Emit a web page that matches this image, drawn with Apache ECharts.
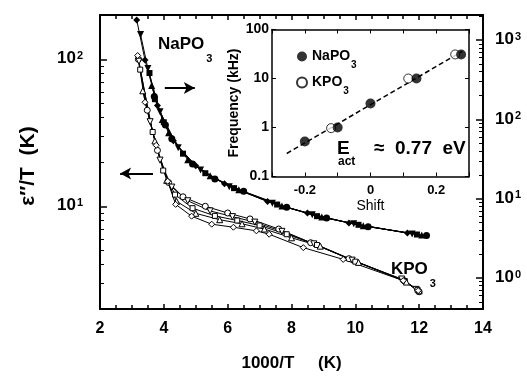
<!DOCTYPE html>
<html><head><meta charset="utf-8">
<script src="https://cdn.jsdelivr.net/npm/echarts@6/dist/echarts.min.js"></script>
<style>html,body{margin:0;padding:0;background:#fff}#c{width:527px;height:377px}</style>
</head><body><div id="c"></div>
<script>
// ---- NaPO3 (right axis), five overlapping curves, filled markers ----
const naX0 = [3.15, 3.41, 3.80, 4.30, 5.00, 5.90, 7.25, 8.50, 9.80, 11.63];
const naY0 = [1800, 560, 150, 54, 26, 15.4, 9.2, 6.6, 4.96, 3.69];
const naX1 = [3.27, 3.50, 3.88, 4.45, 5.15, 6.05, 7.40, 8.65, 9.95, 11.78];
const naY1 = [1180, 440, 125, 44, 23, 14.2, 8.8, 6.3, 4.82, 3.60];
const naX2 = [3.55, 3.72, 4.00, 4.60, 5.30, 6.20, 7.55, 8.80, 10.10, 11.93];
const naY2 = [385, 180, 92, 37, 21, 13.6, 8.45, 6.03, 4.69, 3.54];
const naX3 = [3.62, 3.95, 4.15, 4.75, 5.45, 6.35, 7.70, 8.95, 10.25, 12.08];
const naY3 = [267, 100, 68, 31, 19.5, 13.0, 8.1, 5.87, 4.55, 3.49];
const naX4 = [3.70, 4.05, 4.25, 4.90, 5.60, 6.50, 7.85, 9.10, 10.40, 12.23];
const naY4 = [195, 85, 57, 27.5, 17.8, 12.4, 7.8, 5.7, 4.43, 3.44];

// ---- KPO3 (left axis), five curves, open markers ----
const kX0 = [3.20, 3.48, 3.80, 4.15, 4.60, 5.30, 6.00, 6.70, 7.60, 8.60, 9.80, 11.50, 12.00];
const kY0 = [100, 45, 24, 14.5, 11.6, 10.0, 9.0, 8.2, 7.0, 5.65, 4.4, 3.15, 2.62];
const kX1 = [3.22, 3.57, 3.88, 4.25, 4.75, 5.45, 6.15, 6.85, 7.70, 8.70, 9.90, 11.45, 11.90];
const kY1 = [97, 37.6, 20.6, 13.5, 10.9, 9.3, 8.5, 7.8, 6.75, 5.55, 4.3, 3.2, 2.72];
const kX2 = [3.26, 3.65, 3.98, 4.35, 4.90, 5.60, 6.30, 7.00, 7.85, 8.80, 10.00, 11.55, 11.95];
const kY2 = [85, 32, 17.5, 12.0, 9.7, 8.6, 8.0, 7.4, 6.45, 5.45, 4.2, 3.1, 2.7];
const kX3 = [3.34, 3.72, 4.09, 4.40, 5.00, 5.75, 6.45, 7.15, 8.00, 8.90, 10.10, 11.60, 12.00];
const kY3 = [61, 27.8, 15.0, 10.8, 8.95, 8.1, 7.6, 7.0, 6.1, 5.35, 4.15, 3.05, 2.66];
const kX4 = [3.18, 3.41, 3.76, 4.12, 4.37, 4.87, 5.50, 6.18, 6.90, 7.30, 8.37, 9.62, 11.50, 11.97];
const kY4 = [106, 51, 26, 14.8, 10.3, 8.56, 7.55, 7.2, 6.8, 6.45, 5.23, 4.35, 3.12, 2.67];

// ---- Inset: frequency vs shift ----
const insShiftNa = [-0.2, -0.1, 0, 0.14, 0.276];
const insFreqNa = [0.52, 1.0, 3.1, 10, 31];
const insShiftK = [-0.12, 0.115, 0.258];
const insFreqK = [0.97, 10, 31];
const fitShift = [-0.255, 0.28];
const fitFreq = [0.295, 36];

// ---- axis ranges / tick values ----
const xMin = 2, xMax = 14, xStep = 2;
const leftMin = 2, leftMax = 200;
const rightMin = 0.407, rightMax = 2075;
const leftMajor = [10, 100];
const leftMinor = [3, 4, 5, 6, 7, 8, 9, 20, 30, 40, 50, 60, 70, 80, 90];
const rightMajor = [1, 10, 100, 1000];
const rightMinor = [0.5, 0.6, 0.7, 0.8, 0.9, 2, 3, 4, 5, 6, 7, 8, 9, 20, 30, 40, 50, 60, 70, 80, 90,
  200, 300, 400, 500, 600, 700, 800, 900, 2000];
const insXMin = -0.3, insXMax = 0.3, insXStep = 0.1;
const insYMin = 0.1, insYMax = 100;
const insXLabels = ['-0.2', '0', '0.2'];

// arrows (data coords)
const arrowRight = [[4.03, 63.7], [4.97, 63.7]];
const arrowLeft = [[3.66, 16.7], [2.63, 16.7]];

const FONT = 'Liberation Sans, Arial, Helvetica, sans-serif';
const zip = (xs, ys) => xs.map((x, i) => [x, ys[i]]);

function powLabel(v) {
  const e = Math.log10(v);
  const r = Math.round(e);
  if (Math.abs(e - r) > 1e-6) return '';
  return '{m|10}{s|' + r + '}';
}
const powRich = {
  m: { fontFamily: FONT, fontWeight: 'bold', fontSize: 17, color: '#000', verticalAlign: 'top', lineHeight: 18 },
  s: { fontFamily: FONT, fontWeight: 'bold', fontSize: 11, color: '#000', verticalAlign: 'top', lineHeight: 10, padding: [0, 0, 0, 1] }
};
const subRich = {
  a: { fontFamily: FONT, fontWeight: 'bold', fontSize: 14, color: '#000', verticalAlign: 'top', lineHeight: 15 },
  b: { fontFamily: FONT, fontWeight: 'bold', fontSize: 10, color: '#000', verticalAlign: 'top', lineHeight: 10, padding: [11, 0, 0, 1] }
};

const naMarkers = [['diamond', 0], ['triangle', 180], ['rect', 0], ['triangle', 0], ['circle', 0]];
const kMarkers = [['circle', 0], ['triangle', 180], ['rect', 0], ['triangle', 0], ['diamond', 0]];
const naSets = [zip(naX0, naY0), zip(naX1, naY1), zip(naX2, naY2), zip(naX3, naY3), zip(naX4, naY4)];
const kSets = [zip(kX0, kY0), zip(kX1, kY1), zip(kX2, kY2), zip(kX3, kY3), zip(kX4, kY4)];

const series = [];
kSets.forEach((d, i) => {
  const s = {
    name: 'KPO3-' + i, type: 'line', xAxisIndex: 0, yAxisIndex: 0, data: d,
    symbol: kMarkers[i][0], symbolRotate: kMarkers[i][1], symbolSize: kMarkers[i][0] === 'rect' ? 5 : 6,
    lineStyle: { color: '#000', width: 1 },
    itemStyle: { color: '#fff', borderColor: '#000', borderWidth: 1 },
    silent: true, animation: false, z: 3
  };
  if (i === 0) {
    s.markLine = {
      silent: true, symbol: ['none', 'arrow'], symbolSize: [9, 11], label: { show: false },
      lineStyle: { color: '#000', width: 2, type: 'solid' }, animation: false,
      data: [
        [{ coord: arrowRight[0] }, { coord: arrowRight[1] }],
        [{ coord: arrowLeft[0] }, { coord: arrowLeft[1] }]
      ]
    };
  }
  series.push(s);
});
naSets.forEach((d, i) => {
  series.push({
    name: 'NaPO3-' + i, type: 'line', xAxisIndex: 0, yAxisIndex: 1, data: d,
    symbol: naMarkers[i][0], symbolRotate: naMarkers[i][1], symbolSize: naMarkers[i][0] === 'rect' ? 6 : 7,
    lineStyle: { color: '#000', width: 1 },
    itemStyle: { color: '#000', borderColor: '#000', borderWidth: 0 },
    silent: true, animation: false, z: 3
  });
});
// inset
series.push({
  name: 'fit', type: 'line', xAxisIndex: 2, yAxisIndex: 4, data: zip(fitShift, fitFreq),
  symbol: 'none', lineStyle: { color: '#000', width: 1.5, type: [5, 3] }, silent: true, animation: false, z: 4
});
series.push({
  name: 'KPO3', type: 'scatter', xAxisIndex: 2, yAxisIndex: 4, data: zip(insShiftK, insFreqK),
  symbol: 'circle', symbolSize: 9, itemStyle: { color: '#fff', borderColor: '#000', borderWidth: 1 },
  silent: true, animation: false, z: 5
});
series.push({
  name: 'NaPO3', type: 'scatter', xAxisIndex: 2, yAxisIndex: 4, data: zip(insShiftNa, insFreqNa),
  symbol: 'circle', symbolSize: 10, itemStyle: { color: '#000', borderColor: '#000', borderWidth: 0 },
  silent: true, animation: false, z: 6
});

function labelBase(extra) {
  return Object.assign({ color: '#000', fontFamily: FONT, fontWeight: 'bold' }, extra);
}
function blackLine(w) { return { show: true, onZero: false, lineStyle: { color: '#000', width: w } }; }
function tick(len, w, extra) {
  return Object.assign({ show: true, inside: true, length: len, lineStyle: { color: '#000', width: w } }, extra || {});
}

const option = {
  animation: false,
  backgroundColor: '#fff',
  grid: [
    { left: 100, right: 44, top: 15, bottom: 58 },
    { left: 272, right: 58, top: 29.5, bottom: 200.5, show: true, backgroundColor: '#fff', borderWidth: 0 }
  ],
  legend: {
    data: ['NaPO3', 'KPO3'], orient: 'vertical', left: 291, top: 44, itemWidth: 10, itemHeight: 10,
    itemGap: 5, selectedMode: false,
    formatter: n => '{a|' + n.slice(0, -1) + '}{b|3}',
    textStyle: { rich: subRich }
  },
  xAxis: [
    {
      gridIndex: 0, type: 'value', position: 'bottom', min: xMin, max: xMax, interval: xStep,
      axisLine: blackLine(2), splitLine: { show: false },
      axisTick: tick(5, 1.5),
      minorTick: { show: true, splitNumber: 4, length: 4, lineStyle: { color: '#000', width: 1.5 } },
      axisLabel: labelBase({ fontSize: 16, margin: 12 }),
      name: '1000/T     (K)', nameLocation: 'middle', nameGap: 46,
      nameTextStyle: labelBase({ fontSize: 17 })
    },
    {
      gridIndex: 0, type: 'value', position: 'top', min: xMin, max: xMax, interval: xStep,
      axisLine: blackLine(2), splitLine: { show: false },
      axisTick: tick(5, 1.5),
      minorTick: { show: true, splitNumber: 4, length: 4, lineStyle: { color: '#000', width: 1.5 } },
      axisLabel: { show: false }
    },
    {
      gridIndex: 1, type: 'value', position: 'bottom', min: insXMin, max: insXMax, interval: insXStep,
      axisLine: blackLine(1.5), splitLine: { show: false },
      axisTick: tick(4, 1),
      axisLabel: labelBase({
        fontSize: 13, margin: 7,
        formatter: v => { const k = Math.round(v * 10); return (k % 2 === 0 && Math.abs(k) <= 2) ? insXLabels[k / 2 + 1] : ''; }
      }),
      name: 'Shift', nameLocation: 'middle', nameGap: 23,
      nameTextStyle: { color: '#000', fontFamily: FONT, fontSize: 14 }
    },
    {
      gridIndex: 1, type: 'value', position: 'top', min: insXMin, max: insXMax, interval: insXStep,
      axisLine: blackLine(1.5), splitLine: { show: false },
      axisTick: tick(4, 1),
      axisLabel: { show: false }
    }
  ],
  yAxis: [
    { // 0: left, major ticks + labels
      gridIndex: 0, type: 'log', logBase: 10, position: 'left', min: leftMin, max: leftMax,
      axisLine: blackLine(2), splitLine: { show: false },
      axisTick: tick(7, 1.5, { customValues: leftMajor }),
      axisLabel: labelBase({ fontSize: 17, formatter: powLabel, rich: powRich, margin: 17, customValues: leftMajor })
    },
    { // 1: right, major ticks + labels
      gridIndex: 0, type: 'log', logBase: 10, position: 'right', min: rightMin, max: rightMax,
      axisLine: blackLine(2), splitLine: { show: false },
      axisTick: tick(7, 1.5, { customValues: rightMajor }),
      axisLabel: labelBase({ fontSize: 17, formatter: powLabel, rich: powRich, margin: 12, customValues: rightMajor })
    },
    { // 2: left minor ticks
      gridIndex: 0, type: 'log', logBase: 10, position: 'left', min: leftMin, max: leftMax,
      axisLine: { show: false, onZero: false }, splitLine: { show: false },
      axisTick: tick(4, 1, { customValues: leftMinor }),
      axisLabel: { show: false }
    },
    { // 3: right minor ticks
      gridIndex: 0, type: 'log', logBase: 10, position: 'right', min: rightMin, max: rightMax,
      axisLine: { show: false, onZero: false }, splitLine: { show: false },
      axisTick: tick(4, 1, { customValues: rightMinor }),
      axisLabel: { show: false }
    },
    { // 4: inset left
      gridIndex: 1, type: 'log', logBase: 10, position: 'left', min: insYMin, max: insYMax, splitNumber: 3,
      axisLine: blackLine(1.5), splitLine: { show: false },
      axisTick: tick(4, 1),
      axisLabel: labelBase({ fontSize: 14, margin: 3, formatter: v => v >= 1 ? String(Math.round(v)) : '0.1' }),
      name: 'Frequency (kHz)', nameLocation: 'middle', nameGap: 31,
      nameTextStyle: labelBase({ fontSize: 14 })
    },
    { // 5: inset right
      gridIndex: 1, type: 'log', logBase: 10, position: 'right', min: insYMin, max: insYMax, splitNumber: 3,
      axisLine: blackLine(1.5), splitLine: { show: false },
      axisTick: tick(4, 1),
      axisLabel: { show: false }
    }
  ],
  graphic: [
    { type: 'text', x: 28, y: 166, rotation: Math.PI / 2, silent: true,
      style: { text: 'ε″/T  (K)', fontFamily: FONT, fontWeight: 'bold', fontSize: 21, fill: '#000', align: 'center', verticalAlign: 'middle' } },
    { type: 'text', left: 158, top: 36, silent: true,
      style: { text: '{a|NaPO}{b|3}', rich: {
        a: { fontFamily: FONT, fontWeight: 'bold', fontSize: 17, fill: '#000', verticalAlign: 'top', lineHeight: 19 },
        b: { fontFamily: FONT, fontWeight: 'bold', fontSize: 11, fill: '#000', verticalAlign: 'top', lineHeight: 11, padding: [17, 0, 0, 2] } } } },
    { type: 'text', left: 391, top: 261, silent: true,
      style: { text: '{a|KPO}{b|3}', rich: {
        a: { fontFamily: FONT, fontWeight: 'bold', fontSize: 17, fill: '#000', verticalAlign: 'top', lineHeight: 19 },
        b: { fontFamily: FONT, fontWeight: 'bold', fontSize: 11, fill: '#000', verticalAlign: 'top', lineHeight: 11, padding: [17, 0, 0, 2] } } } },
    { type: 'text', left: 337, top: 139, z: 10, silent: true,
      style: { text: 'E', fontFamily: FONT, fontWeight: 'bold', fontSize: 19, fill: '#000' } },
    { type: 'text', left: 338, top: 156, z: 10, silent: true,
      style: { text: 'act', fontFamily: FONT, fontWeight: 'bold', fontSize: 12, fill: '#000' } },
    { type: 'text', left: 374, top: 139, z: 10, silent: true,
      style: { text: '≈  0.77  eV', fontFamily: FONT, fontWeight: 'bold', fontSize: 19, fill: '#000' } }
  ],
  series: series
};
const chart = echarts.init(document.getElementById('c'), null, { renderer: 'canvas' });
chart.setOption(option);
</script></body></html>
